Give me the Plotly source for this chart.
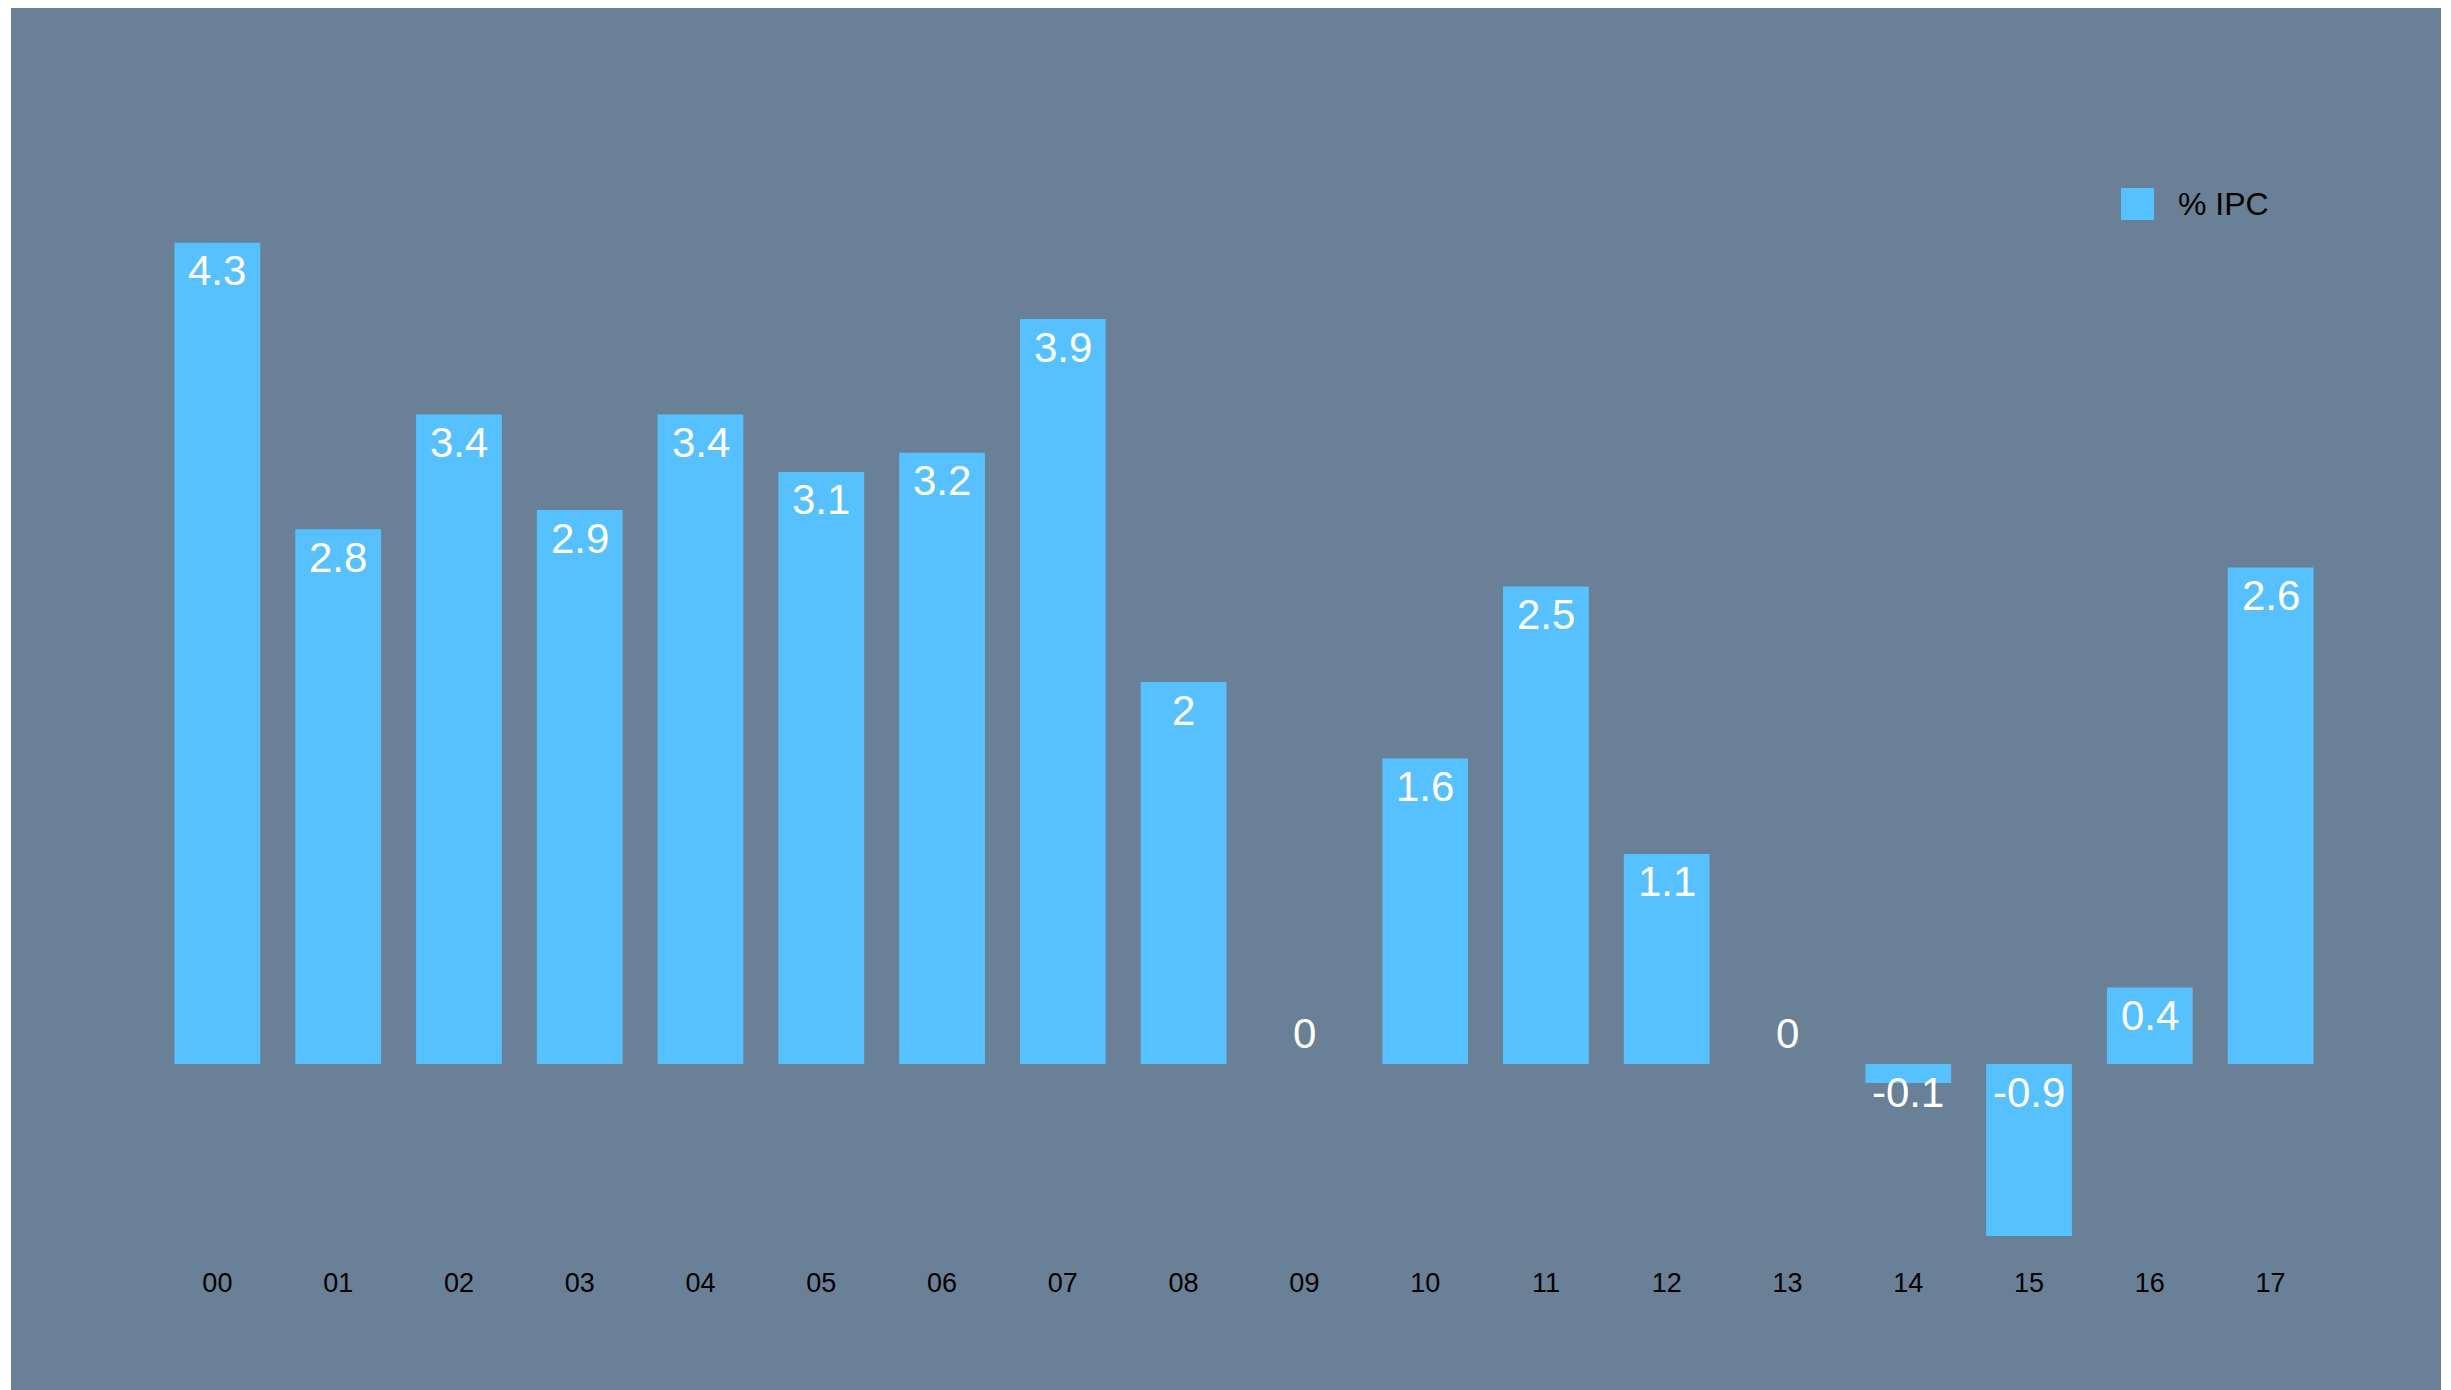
import plotly.graph_objects as go

# ---- data ----
years = ["00", "01", "02", "03", "04", "05", "06", "07", "08",
         "09", "10", "11", "12", "13", "14", "15", "16", "17"]
ipc = [4.3, 2.8, 3.4, 2.9, 3.4, 3.1, 3.2, 3.9, 2.0,
       0.0, 1.6, 2.5, 1.1, 0.0, -0.1, -0.9, 0.4, 2.6]
series_name = "% IPC"

# ---- styling ----
OFF = 8  # page body margin
W, H = 2451 - OFF, 1390 - OFF
L, R, T, B = 157 - OFF, 2331 - OFF, 100 - OFF, 1255 - OFF
ZERO = 1064 - OFF
UNIT = 191
SLATE = "rgb(106,128,151)"
BAR = "rgb(87,192,255)"
FONT = "Liberation Sans, Arial, Helvetica, sans-serif"


def px_x(px):
    return (px - OFF - L) / (R - L)


def px_y(py):
    return (B - (py - OFF)) / (B - T)


fig = go.Figure()
fig.add_trace(go.Bar(
    x=years, y=ipc, name=series_name,
    marker=dict(color=BAR, line=dict(width=0)),
    showlegend=False, hoverinfo="x+y",
))

for yr, v in zip(years, ipc):
    shift = 31 if v == 0 else -28
    fig.add_annotation(
        x=yr, y=max(v, 0), xref="x", yref="y",
        text=f"{v:g}", showarrow=False, yshift=shift,
        yanchor="middle", xanchor="center",
        font=dict(family=FONT, size=42, color="white"),
    )

# background panel
fig.add_shape(type="rect", xref="paper", yref="paper",
              x0=px_x(11), x1=px_x(2441), y0=px_y(1400), y1=px_y(OFF),
              fillcolor=SLATE, line=dict(width=0), layer="below")

# legend (manual, to get the large swatch)
fig.add_shape(type="rect", xref="paper", yref="paper",
              x0=px_x(2121), x1=px_x(2154), y0=px_y(220), y1=px_y(188),
              fillcolor=BAR, line=dict(width=0))
fig.add_annotation(x=px_x(2176), y=px_y(204), xref="paper", yref="paper",
                   text=series_name, showarrow=False, xanchor="left",
                   yanchor="middle",
                   font=dict(family=FONT, size=32, color="black"))

fig.update_layout(
    width=W, height=H,
    margin=dict(l=L, r=W - R, t=T, b=H - B, pad=0),
    paper_bgcolor="white", plot_bgcolor="rgba(0,0,0,0)",
    bargap=0.29,
    font=dict(family=FONT, color="black"),
    xaxis=dict(showgrid=False, zeroline=False, showline=False,
               ticks="", tickfont=dict(size=27, color="black"),
               ticklabelstandoff=9),
    yaxis=dict(range=[-(B - ZERO) / UNIT, (ZERO - T) / UNIT], showgrid=False,
               zeroline=False, showline=False, showticklabels=False),
)

fig.write_html("out.html")
